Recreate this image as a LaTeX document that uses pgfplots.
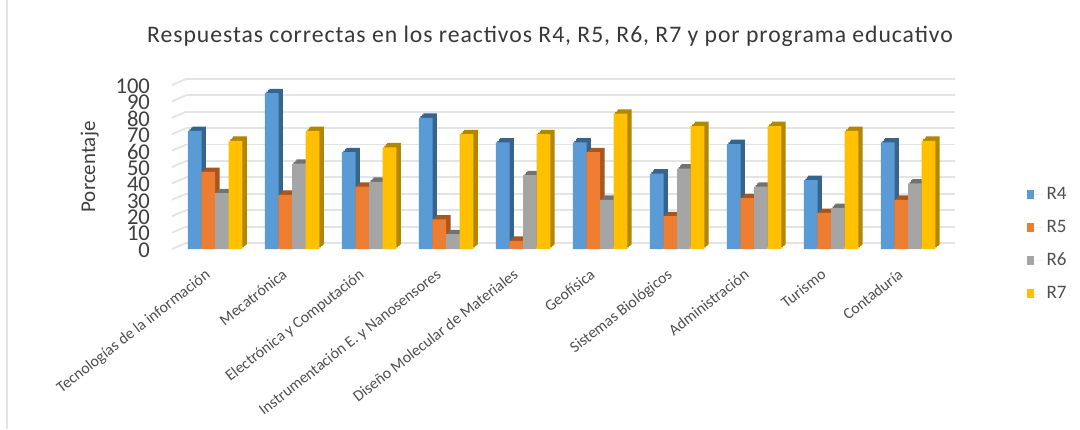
\documentclass[border=0pt]{standalone}
\usepackage{fontspec}
\setmainfont{Carlito}
\newfontfamily\titlefont[LetterSpace=4]{Carlito}
\usepackage{pgfplots}
\usepackage{pgfplotstable}
\pgfplotsset{compat=1.18}
\definecolor{rfour}{HTML}{5B9BD5}
\definecolor{rfive}{HTML}{ED7D31}
\definecolor{rsix}{HTML}{A5A5A5}
\definecolor{rseven}{HTML}{FFC000}
\definecolor{rfourd}{HTML}{37648C}
\definecolor{rfived}{HTML}{A9551F}
\definecolor{rsixd}{HTML}{727272}
\definecolor{rsevend}{HTML}{B38600}
\definecolor{txt}{HTML}{505050}
\definecolor{gridc}{HTML}{E4E4E4}

\pgfplotstableread{
i R4 R5 R6 R7
0 72 47 34 66
1 95 33 52 72
2 59 38 41 62
3 80 18 9 70
4 65 5 45 70
5 65 59 30 82.5
6 46 20 49 75
7 64 31 38 75
8 42 22 25 72
9 65 30 40 66
}\datatable

% one bar series with its side faces behind it
\newcommand{\barseries}[4]{%
  \pgfplotsinvokeforeach{2.2pt,1.6pt,0.8pt}{%
    \addplot[forget plot, draw=none, fill=#3, bar shift=#4, xshift=##1, yshift=##1] table[x=i,y=#1] {\datatable};
  }
  \addplot[draw=none, fill=#2, bar shift=#4] table[x=i,y=#1] {\datatable};
}

\begin{document}
\begin{tikzpicture}[x=1pt,y=1pt]
\path[use as bounding box] (0,0) rectangle (540,214.5);
\fill[white] (0,0) rectangle (540,214.5);
\fill[gridc] (3,0) rectangle (4.2,214.5);
\node[anchor=center, text=txt!70!black, font=\titlefont\fontsize{11.85}{14}\selectfont] at (275,196.5)
  {Respuestas correctas en los reactivos R4, R5, R6, R7 y por programa educativo};

% back wall
\begin{axis}[
    at={(93pt,93pt)}, anchor=south west, scale only axis,
    width=384.5pt, height=82pt,
    xmin=-0.56, xmax=9.58, ymin=0, ymax=100,
    ytick={0,10,...,100}, xtick=\empty,
    ymajorgrids, grid style={gridc, line width=0.9pt},
    axis line style={draw=none}, yticklabels={}, major tick length=0pt,
]
\addplot[draw=none, forget plot] coordinates {(0,0)};
\end{axis}

\begin{axis}[
    at={(86pt,90pt)}, anchor=south west, scale only axis,
    width=389pt, height=82pt,
    xmin=-0.56, xmax=9.545, ymin=0, ymax=100,
    clip=false, ybar, bar width=6.85pt,
    axis line style={draw=none}, major tick length=0pt,
    ytick={0,10,...,100},
    xtick={0,...,9},
    xticklabels={Tecnologías de la información, Mecatrónica, Electrónica y Computación, Instrumentación E. y Nanosensores, Diseño Molecular de Materiales, Geofísica, Sistemas Biológicos, Administración, Turismo, Contaduría},
    /pgf/number format/assume math mode=true,
    yticklabel style={font=\fontsize{11.3}{12}\selectfont, text=txt!80!black, xshift=-7.5pt, yshift=-0.5pt},
    xticklabel style={font=\fontsize{7.9}{9}\selectfont, text=txt, rotate=38, anchor=north east, inner sep=0pt, xshift=-10pt, yshift=-4pt},
    ylabel={Porcentaje},
    ylabel style={font=\fontsize{10.5}{12}\selectfont, text=txt!80!black, at={(axis description cs:-0.085,0.5)}, anchor=south},
    legend style={at={(1.098,0.405)}, anchor=north west, draw=none, fill=none,
      font=\fontsize{9.5}{10}\selectfont, text=txt, row sep=4.9pt, legend cell align=left,
      inner sep=0pt},
    legend image code/.code={\fill[#1] (0,-2pt) rectangle (3.6pt,2.5pt); \path (0,0) -- (8pt,0);},
]
\pgfplotsinvokeforeach{0,10,...,100}{%
  \draw[gridc, line width=0.9pt] (axis cs:-0.56,#1) -- ++(7pt,3pt);
}
\barseries{R4}{rfour}{rfourd}{-10.2pt}
\barseries{R5}{rfive}{rfived}{-3.4pt}
\barseries{R6}{rsix}{rsixd}{3.4pt}
\barseries{R7}{rseven}{rsevend}{10.2pt}
\legend{R4,R5,R6,R7}
\end{axis}
\end{tikzpicture}
\end{document}
